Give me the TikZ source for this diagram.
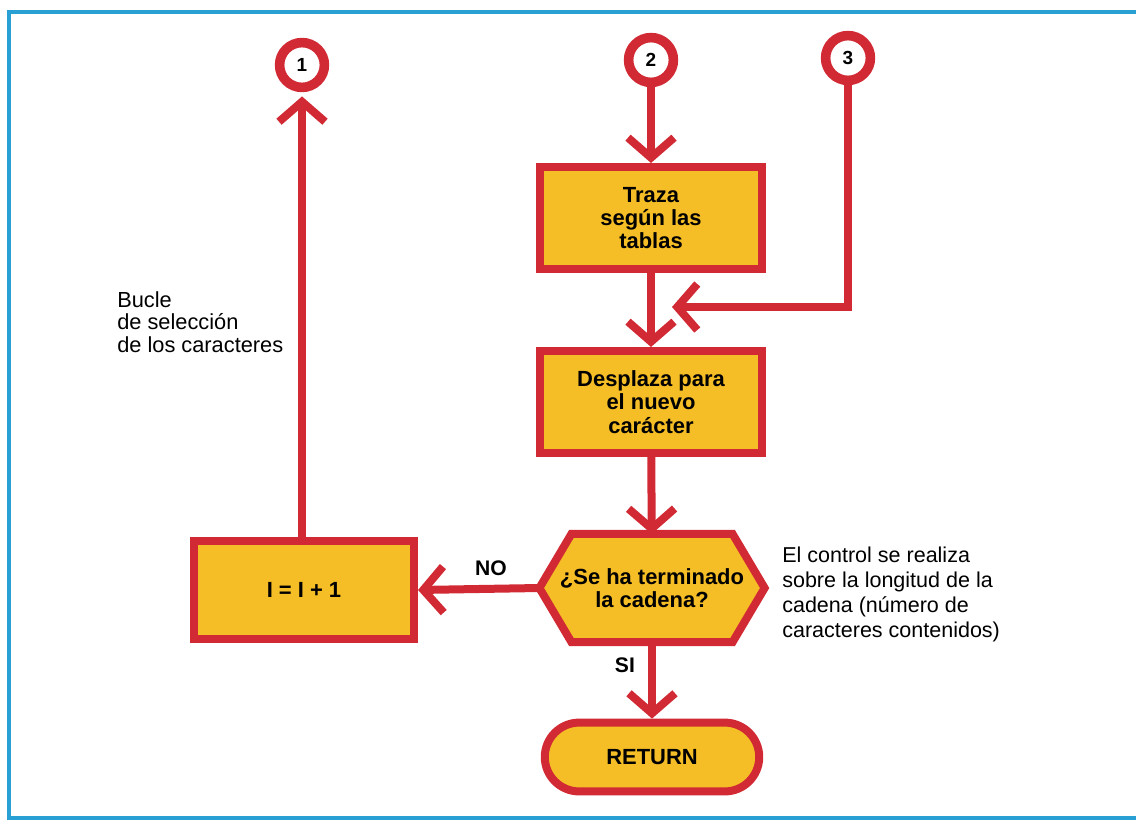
\documentclass[tikz,border=0pt]{standalone}
\usepackage{fontspec}
\setmainfont{Liberation Sans}
\usetikzlibrary{arrows.meta,shapes.misc,backgrounds,positioning}

\definecolor{flowred}{RGB}{210,42,52}
\definecolor{flowyellow}{RGB}{245,190,38}
\definecolor{frameblue}{RGB}{40,160,212}

\tikzset{
  procbox/.style={draw=flowred, fill=flowyellow, line width=0.2cm,
    minimum width=5.55cm, minimum height=2.55cm, align=center, inner sep=2pt,
    font=\bfseries\fontsize{15.6}{16.6}\selectfont},
  testbox/.style={procbox, draw=none, fill=none, minimum width=5.43cm,
    minimum height=2.5cm},
  hexline/.style={draw=flowred, fill=flowyellow, line width=0.2cm},
  endbox/.style={procbox, shape=rounded rectangle, minimum width=5.5cm,
    minimum height=1.72cm},
  connector/.style={draw=flowred, fill=white, circle, line width=0.24cm,
    minimum size=1.12cm, inner sep=0pt, font=\bfseries\fontsize{13.5}{13.5}\selectfont},
  flow/.style={draw=flowred, line width=0.2cm,
    -{Straight Barb[length=0.5cm, width=1.15cm]}},
  note/.style={align=left, anchor=north west, inner sep=0pt},
  answer/.style={font=\bfseries\fontsize{15}{15}\selectfont}
}

\begin{document}
\begin{tikzpicture}[x=0.025cm, y=-0.025cm]
    \useasboundingbox (0,0) rectangle (1136,821);

    % Frame round the page
    \draw[frameblue, line width=2.2pt] (1136,12) -- (9,12) -- (9,818) -- (1136,818);

    % Connectors at the top
    \node[connector] (c1) at (302,65) {1};
    \node[connector] (c2) at (651,60) {2};
    \node[connector] (c3) at (848,58) {3};

    % Boxes
    \node[procbox] (traza) at (651,218) {Traza\\según las\\tablas};
    \node[procbox] (desplaza) at (651,402) {Desplaza para\\el nuevo\\carácter};
    \node[testbox] (test) at (652,588) {¿Se ha terminado\\la cadena?};
    \node[procbox, minimum width=5.5cm, minimum height=2.45cm] (incr) at (304,590) {I = I + 1};
    \node[endbox] (ret) at (652,757) {RETURN};

    % Hexagon behind the test
    \begin{scope}[on background layer]
      \draw[hexline] (test.west) -- ([xshift=0.8cm]test.north west)
        -- ([xshift=-0.8cm]test.north east) -- (test.east)
        -- ([xshift=-0.8cm]test.south east) -- ([xshift=0.8cm]test.south west) -- cycle;
    \end{scope}

    \coordinate (merge) at (672,307);

    % Arrows
    \draw[flow] (c2) -- (traza);
    \draw[flow] (traza) -- (desplaza);
    \draw[flow] (c3.south) |- (merge);
    \draw[flow] (desplaza) -- (test);
    \draw[flow] (test.west) -- node[answer, above=3pt, pos=0.4] {NO} (incr.east);
    \draw[flow] (test.south) -- node[answer, left=6pt, pos=0.3] {SI} (ret.north);
    \draw[flow, shorten >=3pt] (incr.north -| c1) -- (c1.south);

    % Side notes
    \node[note, font=\fontsize{15.5}{16.1}\selectfont] (bucle) at (117,291)
        {Bucle\\de selección\\de los caracteres};
    \node[note, font=\fontsize{15.3}{17.6}\selectfont] (control) at (782,547)
        {El control se realiza\\sobre la longitud de la\\cadena (número de\\caracteres contenidos)};
\end{tikzpicture}
\end{document}
